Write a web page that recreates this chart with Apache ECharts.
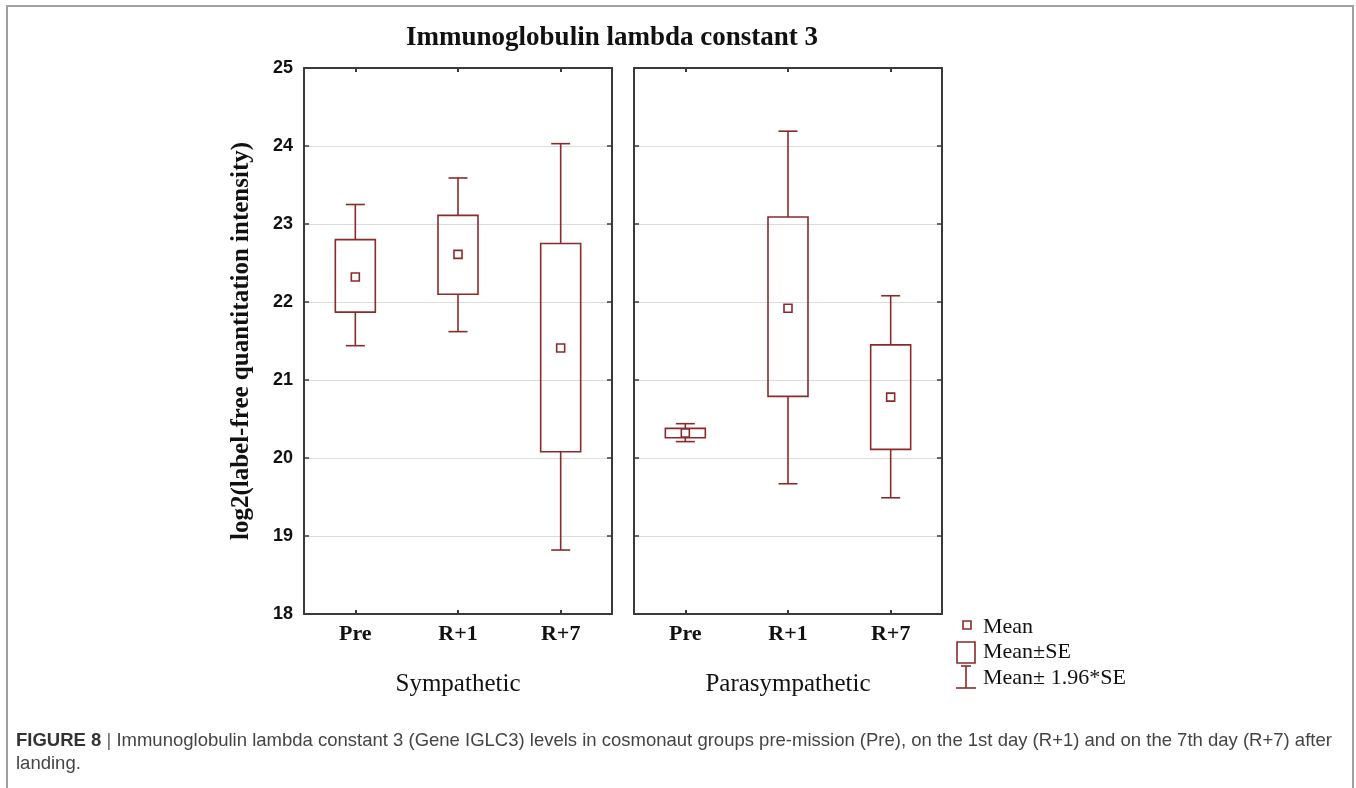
<!DOCTYPE html>
<html>
<head>
<meta charset="utf-8">
<script src="https://cdn.jsdelivr.net/npm/echarts@6/dist/echarts.min.js"></script>
<style>
html,body{margin:0;padding:0;background:#fff;}
#chart{width:1356px;height:788px;}
</style>
</head>
<body>
<div id="chart"></div>
<script>
// ---- data ----
const categories = ['Pre', 'R+1', 'R+7'];
const panelNames = ['Sympathetic', 'Parasympathetic'];

const symMean   = [22.32, 22.61, 21.41];
const symSeLow  = [21.87, 22.10, 20.08];
const symSeHigh = [22.80, 23.11, 22.75];
const symCiLow  = [21.44, 21.62, 18.82];
const symCiHigh = [23.25, 23.59, 24.03];

const paraMean   = [20.32, 21.92, 20.78];
const paraSeLow  = [20.26, 20.79, 20.11];
const paraSeHigh = [20.38, 23.09, 21.45];
const paraCiLow  = [20.21, 19.67, 19.49];
const paraCiHigh = [20.44, 24.19, 22.08];

const yMin = 18, yMax = 25, yStep = 1;

const titleText = 'Immunoglobulin lambda constant 3';
const yTitle = 'log2(label-free quantitation intensity)';
const legendLabels = ['Mean', 'Mean\u00b1SE', 'Mean\u00b1 1.96*SE'];
const captionBold = 'FIGURE 8';
const captionLine1 = 'Immunoglobulin lambda constant 3 (Gene IGLC3) levels in cosmonaut groups pre-mission (Pre), on the 1st day (R+1) and on the 7th day (R+7) after';
const captionLine2 = 'landing.';

// ---- styles ----
const RED = '#8b2a2a';
const AX = '#3a3a3a';
const SERIF = '"Liberation Serif", "DejaVu Serif", serif';
const SANS = '"Liberation Sans", Arial, sans-serif';

function build(mean, lo, hi, ciLo, ciHi) {
  return categories.map((c, i) => [i, ciLo[i], lo[i], mean[i], hi[i], ciHi[i]]);
}

function renderItem(params, api) {
  const x = api.value(0);
  const pCiLo = api.coord([x, api.value(1)]);
  const pLo = api.coord([x, api.value(2)]);
  const pMean = api.coord([x, api.value(3)]);
  const pHi = api.coord([x, api.value(4)]);
  const pCiHi = api.coord([x, api.value(5)]);
  const cx = pMean[0];
  const boxW = 40, capW = 19, m = 8;
  const st = {stroke: RED, lineWidth: 1.6, fill: null};
  return {
    type: 'group',
    children: [
      {type: 'line', shape: {x1: cx, y1: pCiLo[1], x2: cx, y2: pLo[1]}, style: st},
      {type: 'line', shape: {x1: cx, y1: pHi[1], x2: cx, y2: pCiHi[1]}, style: st},
      {type: 'line', shape: {x1: cx - capW / 2, y1: pCiLo[1], x2: cx + capW / 2, y2: pCiLo[1]}, style: st},
      {type: 'line', shape: {x1: cx - capW / 2, y1: pCiHi[1], x2: cx + capW / 2, y2: pCiHi[1]}, style: st},
      {type: 'rect', shape: {x: cx - boxW / 2, y: pHi[1], width: boxW, height: pLo[1] - pHi[1]}, style: {stroke: RED, lineWidth: 1.6, fill: 'rgba(0,0,0,0)'}},
      {type: 'rect', shape: {x: cx - m / 2, y: pMean[1] - m / 2, width: m, height: m}, style: {stroke: RED, lineWidth: 1.6, fill: '#fff'}}
    ]
  };
}

const grids = [
  {left: 304, top: 68, width: 308, height: 546},
  {left: 634, top: 68, width: 308, height: 546}
];

const xAxes = [];
const yAxes = [];
grids.forEach((g, gi) => {
  xAxes.push({
    gridIndex: gi, type: 'category', data: categories, position: 'bottom',
    axisLine: {show: true, lineStyle: {color: AX, width: 2}},
    axisTick: {show: true, alignWithLabel: true, inside: true, length: 4, lineStyle: {color: AX, width: 2}},
    axisLabel: {fontFamily: SERIF, fontWeight: 'bold', fontSize: 22, color: '#111', margin: 9},
    name: panelNames[gi], nameLocation: 'middle', nameGap: 58,
    nameTextStyle: {fontFamily: SERIF, fontSize: 25, color: '#111'}
  });
  xAxes.push({
    gridIndex: gi, type: 'category', data: categories, position: 'top',
    axisLine: {show: true, lineStyle: {color: AX, width: 2}},
    axisTick: {show: true, alignWithLabel: true, inside: true, length: 4, lineStyle: {color: AX, width: 2}},
    axisLabel: {show: false}
  });
  yAxes.push({
    gridIndex: gi, type: 'value', min: yMin, max: yMax, interval: yStep, position: 'left',
    axisLine: {show: true, lineStyle: {color: AX, width: 2}},
    axisTick: {show: true, inside: true, length: 5, lineStyle: {color: AX, width: 1.5}},
    axisLabel: {show: gi === 0, fontFamily: SANS, fontWeight: 'bold', fontSize: 18, color: '#111', margin: 11},
    splitLine: {show: true, lineStyle: {color: '#dcdcdc', width: 1}},
    name: gi === 0 ? yTitle : '', nameLocation: 'middle', nameGap: 50, nameRotate: 90,
    nameTextStyle: {fontFamily: SERIF, fontWeight: 'bold', fontSize: 25, color: '#111'}
  });
  yAxes.push({
    gridIndex: gi, type: 'value', min: yMin, max: yMax, interval: yStep, position: 'right',
    axisLine: {show: true, lineStyle: {color: AX, width: 2}},
    axisTick: {show: true, inside: true, length: 5, lineStyle: {color: AX, width: 1.5}},
    axisLabel: {show: false},
    splitLine: {show: false}
  });
});

const legendSt = {stroke: RED, lineWidth: 1.6, fill: null};
const legendText = (y, t) => ({type: 'text', x: 983, y: y, style: {text: t, fontFamily: SERIF, fontSize: 22, fill: '#111', textVerticalAlign: 'middle'}});

const option = {
  animation: false,
  backgroundColor: '#fff',
  grid: grids,
  xAxis: xAxes,
  yAxis: yAxes,
  series: [
    {type: 'custom', xAxisIndex: 0, yAxisIndex: 0, renderItem: renderItem, data: build(symMean, symSeLow, symSeHigh, symCiLow, symCiHigh), encode: {x: 0, y: [1, 2, 3, 4, 5]}},
    {type: 'custom', xAxisIndex: 2, yAxisIndex: 2, renderItem: renderItem, data: build(paraMean, paraSeLow, paraSeHigh, paraCiLow, paraCiHigh), encode: {x: 0, y: [1, 2, 3, 4, 5]}}
  ],
  graphic: [
    {type: 'rect', shape: {x: 7, y: 6, width: 1346, height: 800}, style: {stroke: '#a0a0a0', lineWidth: 2, fill: null}, silent: true},
    {type: 'text', x: 612, y: 38, style: {text: titleText, fontFamily: SERIF, fontWeight: 'bold', fontSize: 27, fill: '#111', textAlign: 'center', textVerticalAlign: 'middle'}},
    // legend
    {type: 'rect', shape: {x: 963, y: 621, width: 8, height: 8}, style: legendSt},
    legendText(627, legendLabels[0]),
    {type: 'rect', shape: {x: 957, y: 642, width: 18, height: 21}, style: legendSt},
    legendText(652, legendLabels[1]),
    {type: 'line', shape: {x1: 966, y1: 666, x2: 966, y2: 688}, style: legendSt},
    {type: 'line', shape: {x1: 961, y1: 666, x2: 971, y2: 666}, style: legendSt},
    {type: 'line', shape: {x1: 956, y1: 688, x2: 976, y2: 688}, style: legendSt},
    legendText(678, legendLabels[2]),
    // caption
    {type: 'text', x: 16, y: 729.5, style: {
      text: '{b|' + captionBold + '}{s| | }{n|' + captionLine1 + '}\n{n|' + captionLine2 + '}',
      textVerticalAlign: 'top',
      rich: {
        b: {fontFamily: SANS, fontWeight: 'bold', fontSize: 18.5, fill: '#333', lineHeight: 23},
        s: {fontFamily: SANS, fontSize: 18.5, fill: '#666', lineHeight: 23},
        n: {fontFamily: SANS, fontSize: 18.5, fill: '#444', lineHeight: 23}
      }
    }}
  ]
};

const chart = echarts.init(document.getElementById('chart'), null, {renderer: 'canvas'});
chart.setOption(option);
</script>
</body>
</html>
